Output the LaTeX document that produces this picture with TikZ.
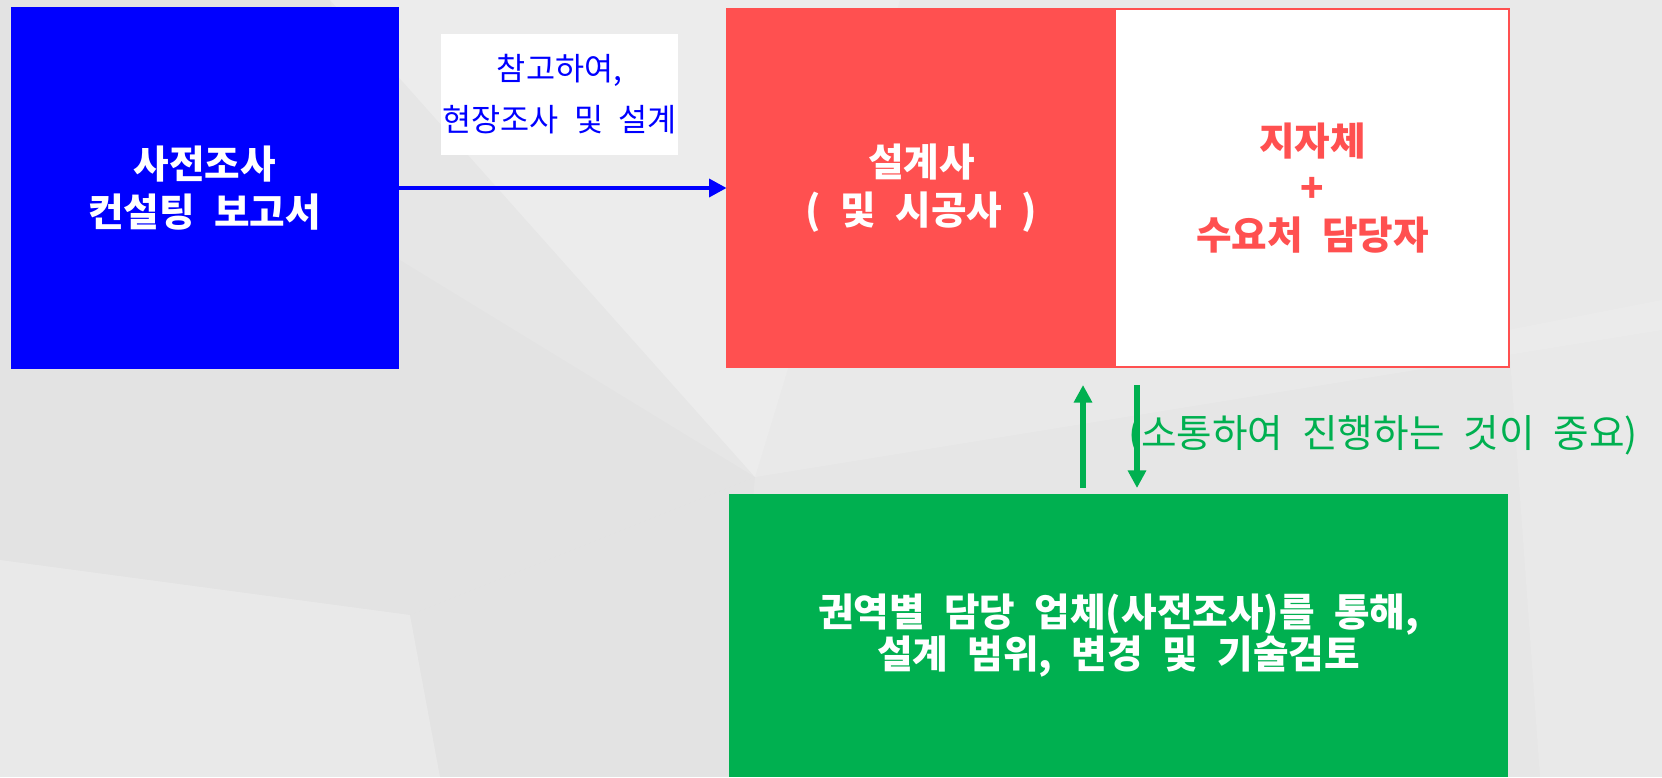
\documentclass[tikz,border=0pt]{standalone}
\usepackage{fontspec}
\setmainfont{Noto Sans CJK KR}[WordSpace=2.2]
\usepackage{tikz}
\usetikzlibrary{arrows.meta,positioning,calc}
\usepackage{xcolor}
\definecolor{reportblue}{RGB}{0,0,255}
\definecolor{designred}{RGB}{255,80,80}
\definecolor{firmgreen}{RGB}{0,176,80}
\definecolor{bggray}{RGB}{230,230,230}

\begin{document}
\begin{tikzpicture}[x=0.02cm, y=-0.02cm,
    box/.style={draw=none, inner sep=0pt, align=center, text=white, font=\fontsize{22}{27}\selectfont\bfseries},
    flow/.style={line width=3pt, -{Triangle[length=10pt, width=10pt]}}]
    % Background with faint facets
    \useasboundingbox (0,0) rectangle (1662,777);
    \fill[bggray] (0,0) rectangle (1662,777);
    \fill[white, opacity=0.25] (330,0) -- (900,0) -- (755,477) -- cycle;
    \fill[white, opacity=0.15] (755,477) -- (900,0) -- (1662,0) -- (1662,330) -- cycle;
    \fill[black, opacity=0.012] (0,0) -- (330,0) -- (400,260) -- (755,477) -- (410,615) -- (0,560) -- cycle;
    \fill[white, opacity=0.12] (0,560) -- (410,615) -- (440,777) -- (0,777) -- cycle;
    \fill[black, opacity=0.01] (410,615) -- (755,477) -- (729,777) -- (440,777) -- cycle;
    \fill[white, opacity=0.12] (1508,330) -- (1662,300) -- (1662,777) -- (1540,777) -- cycle;

    % Report box
    \node[box, fill=reportblue, minimum width=7.76cm, minimum height=7.24cm] (report) at (204.6,188)
        {사전조사\\컨설팅 보고서};

    % Designer and local government boxes
    \node[box, fill=designred, minimum width=7.78cm, minimum height=7.15cm] (designer) at (921.5,188)
        {설계사\\( 및 시공사 )};
    \node[box, fill=white, text=designred, minimum width=7.86cm, minimum height=7.15cm,
        font=\fontsize{22}{26.7}\selectfont\bfseries] (local) at (1312.5,188)
        {지자체\\+\\수요처 담당자};
    \draw[designred, line width=1pt] (designer.north west) rectangle (local.south east);

    % Label of the first arrow
    \node[fill=white, inner sep=0pt, minimum width=4.74cm, minimum height=2.42cm, align=center,
        text=reportblue, font=\fontsize{18}{29}\selectfont] (memo) at (559.5,94.5)
        {참고하여,\\현장조사 및 설계};
    \draw[flow, reportblue, line width=2.6pt] (report.east) -- (designer.west);

    % Regional firm box
    \node[box, fill=firmgreen, minimum width=15.58cm, minimum height=5.66cm,
        font=\fontsize{22}{24}\selectfont\bfseries] (firm) at (1118.5,635.5)
        {권역별 담당 업체(사전조사)를 통해,\\설계 범위, 변경 및 기술검토};

    % Two-way arrows
    \coordinate (upfoot) at (1083,488);
    \coordinate (uptip) at (1083,385);
    \coordinate (downfoot) at (1137,385);
    \coordinate (downtip) at (1137,488);
    \draw[flow, firmgreen] (upfoot) -- (uptip);
    \draw[flow, firmgreen] (downfoot) -- (downtip);
    \node[text=firmgreen, font=\fontsize{22}{24}\selectfont, inner sep=0pt] (note) at (1383,435)
        {(소통하여 진행하는 것이 중요)};
\end{tikzpicture}
\end{document}
